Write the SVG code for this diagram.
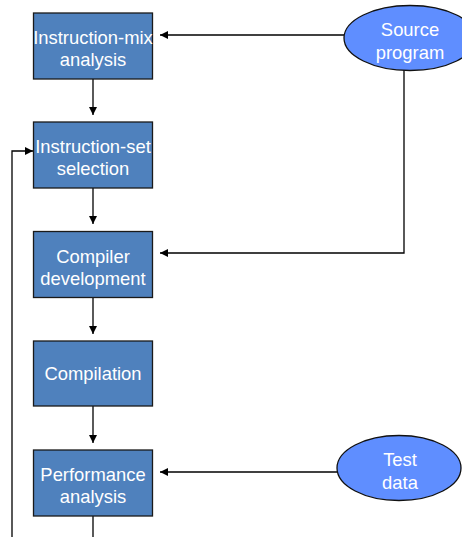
<svg xmlns="http://www.w3.org/2000/svg" width="462" height="537" viewBox="0 0 462 537">
  <style>
    .box { fill: #4F81BD; stroke: #1a1a1a; stroke-width: 1.3; }
    .oval { fill: #5F8EFF; stroke: #111; stroke-width: 1.3; }
    .lbl { font-family: "Liberation Sans", Arial, sans-serif; font-size: 18.4px; fill: #ffffff; text-anchor: middle; }
    .wire { fill: none; stroke: #000; stroke-width: 1.3; }
  </style>
  <defs>
    <marker id="arr" viewBox="0 0 10 10" refX="10" refY="5" markerWidth="8" markerHeight="8" markerUnits="userSpaceOnUse" orient="auto">
      <path d="M0,0 L10,5 L0,10 z" fill="#000"/>
    </marker>
  </defs>
  <rect width="462" height="537" fill="#ffffff"/>

  <g id="connectors">
    <line class="wire" x1="93" y1="79" x2="93" y2="115" marker-end="url(#arr)"/>
    <line class="wire" x1="93" y1="188" x2="93" y2="224" marker-end="url(#arr)"/>
    <line class="wire" x1="93" y1="297" x2="93" y2="334" marker-end="url(#arr)"/>
    <line class="wire" x1="93" y1="406" x2="93" y2="443" marker-end="url(#arr)"/>
    <line class="wire" x1="93" y1="516" x2="93" y2="537"/>
    <line class="wire" x1="344" y1="35" x2="160" y2="35" marker-end="url(#arr)"/>
    <polyline class="wire" points="404,70 404,253 160,253" marker-end="url(#arr)"/>
    <line class="wire" x1="337" y1="472" x2="160" y2="472" marker-end="url(#arr)"/>
    <polyline class="wire" points="12,537 12,151 33,151" marker-end="url(#arr)"/>
  </g>

  <g id="instruction-mix">
    <rect class="box" x="33.5" y="13" width="119" height="66"/>
    <text class="lbl" x="93" y="43.5">Instruction-mix</text>
    <text class="lbl" x="93" y="65.5">analysis</text>
  </g>
  <g id="instruction-set">
    <rect class="box" x="33.5" y="122" width="119" height="66"/>
    <text class="lbl" x="93" y="152.5">Instruction-set</text>
    <text class="lbl" x="93" y="174.5">selection</text>
  </g>
  <g id="compiler-dev">
    <rect class="box" x="33.5" y="231.5" width="119" height="66"/>
    <text class="lbl" x="93" y="262.5">Compiler</text>
    <text class="lbl" x="93" y="285">development</text>
  </g>
  <g id="compilation">
    <rect class="box" x="33.5" y="341" width="119" height="65"/>
    <text class="lbl" x="93" y="379.5">Compilation</text>
  </g>
  <g id="performance">
    <rect class="box" x="33.5" y="450" width="119" height="66"/>
    <text class="lbl" x="93" y="481">Performance</text>
    <text class="lbl" x="93" y="503">analysis</text>
  </g>
  <g id="source-program">
    <ellipse class="oval" cx="410" cy="38" rx="66" ry="32.5"/>
    <text class="lbl" x="410" y="36">Source</text>
    <text class="lbl" x="410" y="58.5">program</text>
  </g>
  <g id="test-data">
    <ellipse class="oval" cx="399" cy="468" rx="62" ry="32.5"/>
    <text class="lbl" x="400" y="466">Test</text>
    <text class="lbl" x="400" y="488.5">data</text>
  </g>
</svg>
